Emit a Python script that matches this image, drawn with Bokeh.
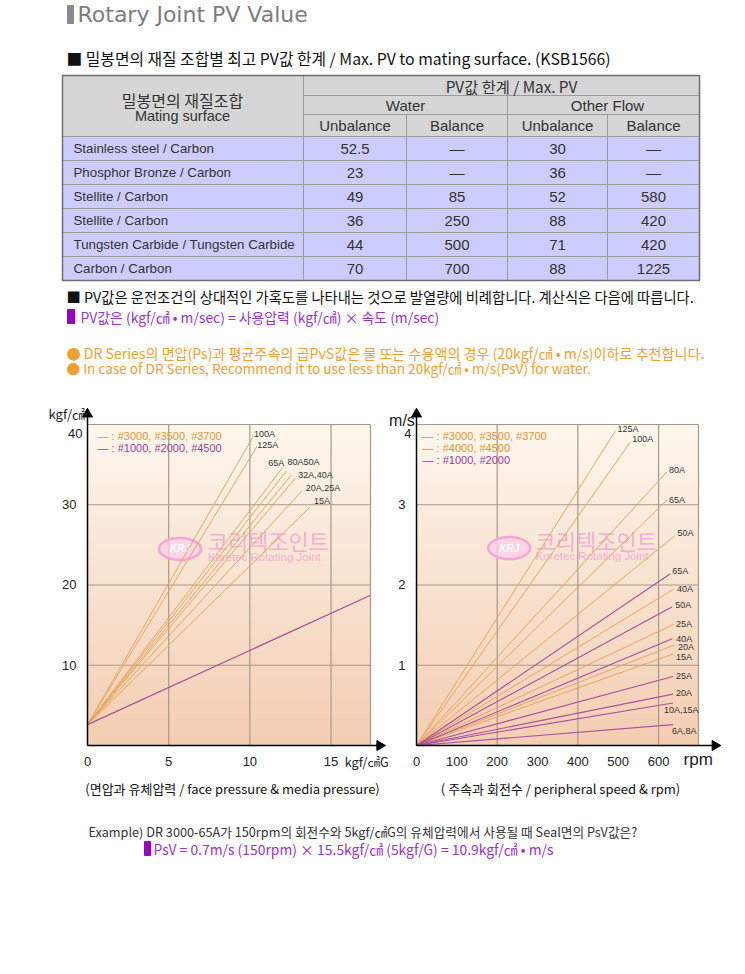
import numpy as np
from bokeh.plotting import figure
from bokeh.models import Range1d, FixedTicker
from bokeh.layouts import column, row
from bokeh.embed import file_html
from bokeh.resources import INLINE
from bokeh.core.properties import value

# ---------------- data ----------------
materials = ["Stainless steel / Carbon", "Phosphor Bronze / Carbon", "Stellite / Carbon",
             "Stellite / Carbon", "Tungsten Carbide / Tungsten Carbide", "Carbon / Carbon"]
water_unbalance = ["52.5", "23", "49", "36", "44", "70"]
water_balance = ["—", "—", "85", "250", "500", "700"]
other_unbalance = ["30", "36", "52", "88", "71", "88"]
other_balance = ["—", "—", "580", "420", "420", "1225"]

# left chart: face pressure vs media pressure (all lines start at the same PV offset)
left_start_y = 2.6
left_orange_labels = ["100A", "125A", "65A", "80A50A", "50A", "32A,40A", "20A,25A", "15A"]
left_orange_end_x = [10.2, 10.45, 12.0, 12.25, 12.55, 12.8, 13.2, 13.7]
left_orange_end_y = [38.5, 37.3, 34.6, 34.2, 33.7, 33.3, 31.7, 29.7]
left_purple_end_x = [17.4]
left_purple_end_y = [18.7]
left_x_ticks = [0, 5, 10, 15]
left_y_ticks = [10, 20, 30, 40]

# right chart: peripheral speed vs rpm (lines from origin)
right_labels = ["125A", "100A", "80A", "65A", "50A", "65A", "40A", "50A", "25A", "40A",
                "20A", "15A", "25A", "20A", "10A,15A", "6A,8A"]
right_series = ["o", "o", "o", "o", "o", "p", "o", "p", "o", "p", "o", "o", "p", "p", "p", "p"]
right_end_rpm = [493, 530, 621, 621, 642, 629, 638, 634, 638, 634, 638, 636, 636, 636, 636, 636]
right_end_ms = [3.92, 3.78, 3.41, 3.06, 2.62, 2.14, 1.95, 1.73, 1.51, 1.33, 1.25, 1.14, 0.86, 0.64, 0.53, 0.26]
right_x_ticks = [0, 100, 200, 300, 400, 500, 600]
right_y_ticks = [1, 2, 3, 4]

# ---------------- style ----------------
KR = "Noto Sans CJK KR"
SANS = "Liberation Sans"
ORANGE_LINE = "#E6A660"
PURPLE_LINE = "#A8519F"
ORANGE_TXT = "#E49330"
PURPLE_TXT = "#9A3C9A"
GRID = "#A8998C"
WM = "#F7A6D4"


def txt(p, x, y, s, size, color="#222222", font=KR, align="left", baseline="middle",
        xo=0, yo=0, style="normal", alpha=1.0):
    p.text(x=[x], y=[y], text=[s], text_font=value(font), text_font_size=f"{size}px",
           text_color=color, text_align=align, text_baseline=baseline,
           x_offset=xo, y_offset=yo, text_font_style=style, text_alpha=alpha)


def bare(p):
    p.min_border_left = p.min_border_right = p.min_border_top = p.min_border_bottom = 0
    p.outline_line_color = None
    return p


def blank(width, height, x0, x1, y0, y1):
    p = figure(width=width, height=height, x_range=Range1d(x0, x1), y_range=Range1d(y1, y0),
               output_backend="svg", toolbar_location=None, min_border=0)
    bare(p)
    p.axis.visible = False
    p.grid.visible = False
    return p

# ---------------- top part (title, table, notes) ----------------
top = blank(737, 400, 0, 737, 0, 400)

top.quad(left=[67], right=[73], top=[5], bottom=[23], color="#8A8A8A")
txt(top, 77, 14, "Rotary Joint PV Value", 22, "#7C7C7C", "DejaVu Sans")
txt(top, 66, 58, "■ 밀봉면의 재질 조합별 최고 PV값 한계 / Max. PV to mating surface. (KSB1566)", 15.8, "#111111")

col_edges = [62, 303, 406, 507, 607, 699]
row_edges = [136, 160, 184, 208, 232, 256, 280]
head_top = 75

top.quad(left=[col_edges[0]], right=[col_edges[-1]], top=[head_top], bottom=[row_edges[0]],
         fill_color="#D6D6D6", line_color=None)
top.quad(left=[col_edges[0]], right=[col_edges[-1]], top=[row_edges[0]], bottom=[row_edges[-1]],
         fill_color="#CCCCFF", line_color=None)
LC = "#9C9C9C"
top.segment(x0=[303, 303], y0=[95, 114], x1=[699, 699], y1=[95, 114], line_color=LC, line_width=1)
top.segment(x0=[62] * 6, y0=row_edges[:-1], x1=[699] * 6, y1=row_edges[:-1], line_color=LC, line_width=1)
top.segment(x0=[303, 406, 507, 607], y0=[head_top, 114, 95, 114], x1=[303, 406, 507, 607],
            y1=[280, 280, 280, 280], line_color=LC, line_width=1)
top.quad(left=[62], right=[699], top=[head_top], bottom=[280], fill_color=None,
         line_color="#6E6E6E", line_width=1.5)

TC = "#333333"
txt(top, 182, 99, "밀봉면의 재질조합", 16, TC, KR, "center")
txt(top, 182, 115, "Mating surface", 14.5, TC, SANS, "center")
txt(top, 511, 85, "PV값 한계 / Max. PV", 15.3, TC, KR, "center")
txt(top, 405, 105, "Water", 15, TC, SANS, "center")
txt(top, 607, 105, "Other Flow", 15, TC, SANS, "center")
centers = [(col_edges[i] + col_edges[i + 1]) / 2 for i in range(1, 5)]
for cx, s in zip(centers, ["Unbalance", "Balance", "Unbalance", "Balance"]):
    txt(top, cx, 125, s, 15, TC, SANS, "center")

row_c = [(row_edges[i] + row_edges[i + 1]) / 2 for i in range(6)]
top.text(x=[73] * 6, y=row_c, text=materials, text_font=value(SANS), text_font_size="13.3px",
         text_color=TC, text_align="left", text_baseline="middle")
for cx, vals in zip(centers, [water_unbalance, water_balance, other_unbalance, other_balance]):
    top.text(x=[cx] * 6, y=row_c, text=vals, text_font=value(SANS), text_font_size="15px",
             text_color=TC, text_align="center", text_baseline="middle")

txt(top, 66, 296, "■ PV값은 운전조건의 상대적인 가혹도를 나타내는 것으로 발열량에 비례합니다. 계산식은 다음에 따릅니다.", 14.3, "#111111")
top.quad(left=[67], right=[74], top=[309], bottom=[323], color="#9900CC")
txt(top, 80, 316, "PV값은 (kgf/㎠ • m/sec) = 사용압력 (kgf/㎠) × 속도 (m/sec)", 13.9, "#9933CC")
txt(top, 66, 352, "● DR Series의 면압(Ps)과 평균주속의 곱PvS값은 물 또는 수용액의 경우 (20kgf/㎠ • m/s)이하로 추천합니다.", 14.1, "#F0A030")
txt(top, 66, 367, "● In case of DR Series, Recommend it to use less than 20kgf/㎠ • m/s(PsV) for water.", 13.6, "#F0A030")


# ---------------- charts ----------------
def gradient(p, xmax, ymax):
    n = 321
    img = np.zeros((n, 1), dtype=np.uint32)
    v = img.view(dtype=np.uint8).reshape((n, 1, 4))
    topc = np.array([254, 247, 238])
    botc = np.array([244, 206, 178])
    for i in range(n):
        t = i / (n - 1)
        v[i, 0, :3] = (botc + (topc - botc) * t).astype(np.uint8)
        v[i, 0, 3] = 255
    p.image_rgba(image=[img], x=0, y=0, dw=xmax, dh=ymax)


def chart(width, xr, yr, xmax, ymax, xticks, yticks, xgrid, ygrid, x_arrow, y_arrow):
    p = figure(width=width, height=375, x_range=Range1d(*xr), y_range=Range1d(*yr),
               output_backend="svg", toolbar_location=None, min_border=0)
    bare(p)
    p.grid.visible = False
    gradient(p, xmax, ymax)
    # grid and plot-area border
    p.segment(x0=xgrid, y0=[0] * len(xgrid), x1=xgrid, y1=[ymax] * len(xgrid),
              line_color=GRID, line_width=1.2)
    p.segment(x0=[0] * len(ygrid), y0=ygrid, x1=[xmax] * len(ygrid), y1=ygrid,
              line_color=GRID, line_width=1.2)
    p.segment(x0=[0, xmax], y0=[ymax, 0], x1=[xmax, xmax], y1=[ymax, ymax],
              line_color=GRID, line_width=1.2)
    p.xaxis.ticker = FixedTicker(ticks=xticks)
    # the top y tick label sits a little below its tick in the original; drawn separately
    p.yaxis.ticker = FixedTicker(ticks=yticks[:-1])
    txt(p, 0, yticks[-1], str(yticks[-1]), 13, "#222222", SANS, "right", xo=-5, yo=9)
    p.xaxis.fixed_location = 0
    p.yaxis.fixed_location = 0
    p.xaxis.bounds = (0, x_arrow)
    p.yaxis.bounds = (0, y_arrow)
    for ax in (p.xaxis, p.yaxis):
        ax.axis_line_color = "black"
        ax.axis_line_width = 1.5
        ax.major_tick_line_color = None
        ax.minor_tick_line_color = None
        ax.major_label_text_font = SANS
        ax.major_label_text_font_size = "13px"
        ax.major_label_text_color = "#222222"
        ax.major_label_standoff = 5
    p.scatter(x=[0], y=[y_arrow], marker="triangle", size=10, color="black")
    p.scatter(x=[x_arrow], y=[0], marker="triangle", size=10, color="black", angle=-np.pi / 2)
    return p


def watermark(p, lx, ly, tx, ty1, ty2):
    p.ellipse(x=[lx], y=[ly], width=42, height=22, width_units="screen", height_units="screen",
              fill_color="#FBD0E8", line_color=WM, line_width=2.5, fill_alpha=0.8)
    txt(p, lx, ly, "KRJ", 10, "#FFFFFF", SANS, "center", style="bold italic")
    txt(p, tx, ty1, "코리텍조인트", 22, WM, KR, alpha=0.9)
    txt(p, tx, ty2, "Koretec Rotating Joint", 11.5, WM, SANS, alpha=0.9)


# left chart (page px: frame x 87..370, y 424..745)
LX = 17.43
left = chart(388, (-5.358, 18.539), (-3.738, 42.99), LX, 40, left_x_ticks, left_y_ticks,
             [5, 10, 15], [10, 20, 30], 18.0, 41.3)
watermark(left, 5.7, 24.5, 7.4, 25.6, 23.5)
n_o = len(left_orange_end_x)
left.segment(x0=[0] * n_o, y0=[left_start_y] * n_o, x1=left_orange_end_x, y1=left_orange_end_y,
             line_color=ORANGE_LINE, line_width=1)
left.segment(x0=[0], y0=[left_start_y], x1=left_purple_end_x, y1=left_purple_end_y,
             line_color=PURPLE_LINE, line_width=1.2)
lab_dx = [1, 0, 2, 1, None, 3, 4, 4]
lab_dy = [-3, -1, -5, -9, None, -3, -3, -6]
for i, s in enumerate(left_orange_labels):
    if lab_dx[i] is None:
        continue
    al = "right" if s == "65A" else "left"
    txt(left, left_orange_end_x[i], left_orange_end_y[i], s, 9, "#333333", SANS, al,
        xo=lab_dx[i], yo=lab_dy[i])
txt(left, 0.62, 38.6, "— : #3000, #3500, #3700", 11, ORANGE_TXT, SANS)
txt(left, 0.62, 37.1, "— : #1000, #2000, #4500", 11, PURPLE_TXT, SANS)
txt(left, -0.15, 41.4, "kgf/㎠", 13, "#222222", KR, "right")
txt(left, 15.85, -2.0, "kgf/㎠G", 12.5, "#222222", KR)

# right chart (page px: frame x 416..698, y 424..745)
RX = 699
right = chart(349, (-69.41, 795.7), (-0.3738, 4.299), RX, 4, right_x_ticks, right_y_ticks,
              [200, 400, 600], [1, 2, 3], 740, 4.13)
watermark(right, 230, 2.46, 295, 2.566, 2.357)
for ser, col in (("o", ORANGE_LINE), ("p", PURPLE_LINE)):
    xs = [r for r, s in zip(right_end_rpm, right_series) if s == ser]
    ys = [m for m, s in zip(right_end_ms, right_series) if s == ser]
    right.segment(x0=[0] * len(xs), y0=[0] * len(xs), x1=xs, y1=ys, line_color=col,
                  line_width=1.1 if ser == "p" else 1)
r_dx = [2, 2, 2, 2, 2, 2, 3, 3, 2, 4, 4, 3, 3, 3, -9, -1]
r_dy = [-2, -3, -2, 0, -2, -3, 0, -2, 0, 0, 2, 3, 0, -1, 7, 6]
for i, s in enumerate(right_labels):
    txt(right, right_end_rpm[i], right_end_ms[i], s, 9, "#333333", SANS, "left",
        xo=r_dx[i], yo=r_dy[i])
txt(right, 15, 3.853, "— : #3000, #3500, #3700", 11, ORANGE_TXT, SANS)
txt(right, 15, 3.703, "— : #4000, #4500", 11, ORANGE_TXT, SANS)
txt(right, 15, 3.554, "— : #1000, #2000", 11, PURPLE_TXT, SANS)
txt(right, -68, 4.05, "m/s", 16, "#222222", SANS)
txt(right, 662, -0.17, "rpm", 17, "#222222", SANS)

# ---------------- bottom part ----------------
bot = blank(737, 95, 0, 737, 775, 870)
txt(bot, 232, 788, "(면압과 유체압력 / face pressure & media pressure)", 13, "#111111", KR, "center")
txt(bot, 560, 788, "( 주속과 회전수 / peripheral speed & rpm)", 13, "#111111", KR, "center")
txt(bot, 88, 831, "Example) DR 3000-65A가 150rpm의 회전수와 5kgf/㎠G의 유체압력에서 사용될 때 Seal면의 PsV값은?", 12.7, "#333333")
bot.quad(left=[144], right=[150], top=[841], bottom=[855], color="#9900CC")
txt(bot, 153, 848, "PsV = 0.7m/s (150rpm) × 15.5kgf/㎠ (5kgf/G) = 10.9kgf/㎠ • m/s", 13.9, "#9933CC")

page = column(top, row(left, right), bot)
open("out.html", "w").write(file_html(page, INLINE))
